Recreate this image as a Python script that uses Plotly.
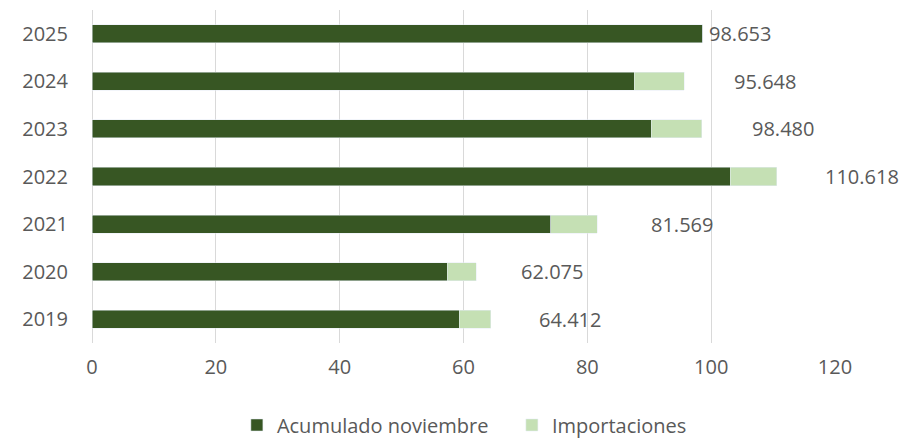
import plotly.graph_objects as go

years = [2019, 2020, 2021, 2022, 2023, 2024, 2025]
acumulado = [59.3, 57.4, 74.1, 103.1, 90.3, 87.6, 98.653]
importaciones = [5.112, 4.675, 7.469, 7.518, 8.18, 8.048, 0.0]
totales = [64.412, 62.075, 81.569, 110.618, 98.480, 95.648, 98.653]
total_labels = ["64.412", "62.075", "81.569", "110.618", "98.480", "95.648", "98.653"]
# horizontal gap (in axis units) between bar end and its label (style)
label_offsets = [7.5, 6.9, 8.4, 7.5, 7.8, 7.7, 0.7]

font_family = "Open Sans, Liberation Sans, sans-serif"
text_color = "#595959"

fig = go.Figure()
fig.add_trace(go.Bar(
    y=years, x=acumulado, orientation="h", name="Acumulado noviembre",
    marker_color="#375623",
))
fig.add_trace(go.Bar(
    y=years, x=importaciones, orientation="h", name="Importaciones",
    marker_color="#C5E0B4",
))

for yr, tot, lab, off in zip(years, totales, total_labels, label_offsets):
    fig.add_annotation(
        x=tot + off, y=yr, xref="x", yref="y", text=lab, showarrow=False,
        xanchor="left", yanchor="middle",
        font=dict(family=font_family, size=20, color=text_color),
    )

fig.update_layout(
    barmode="stack",
    bargap=0.62,
    width=907, height=438,
    margin=dict(l=84, r=80, t=2, b=103, autoexpand=False),
    paper_bgcolor="white", plot_bgcolor="white",
    font=dict(family=font_family, size=20, color=text_color),
    showlegend=True,
    legend=dict(
        orientation="h", x=0.195, xanchor="left",
        yref="container", y=0.048, yanchor="middle",
        font=dict(family=font_family, size=20, color=text_color),
        traceorder="normal", entrywidth=230,
    ),
    xaxis=dict(
        range=[0, 120], dtick=20, tick0=0, automargin=False,
        showgrid=True, gridcolor="#D9D9D9", gridwidth=1,
        zeroline=True, zerolinecolor="#D9D9D9", zerolinewidth=1,
        showline=False, ticks="outside", ticklen=6, tickcolor="rgba(0,0,0,0)",
    ),
    yaxis=dict(
        type="linear", range=[2018.5, 2025.5], tickmode="linear", tick0=2019, dtick=1,
        automargin=False,
        showgrid=False, showline=False, zeroline=False,
        ticks="outside", ticklen=19, tickcolor="rgba(0,0,0,0)",
    ),
)

fig.write_html("out.html")
